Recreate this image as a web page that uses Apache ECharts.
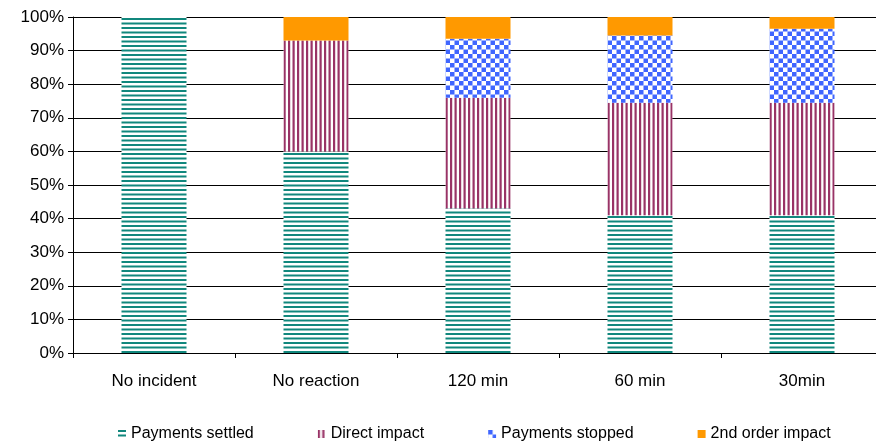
<!DOCTYPE html>
<html>
<head>
<meta charset="utf-8">
<script src="https://cdn.jsdelivr.net/npm/echarts@6/dist/echarts.min.js"></script>
<style>html,body{margin:0;padding:0;background:#fff;overflow:hidden;width:876px;height:442px}#c{width:890px;height:442px}</style>
</head>
<body>
<div id="c"></div>
<script>
const categories = ['No incident', 'No reaction', '120 min', '60 min', '30min'];
const seriesNames = ['Payments settled', 'Direct impact', 'Payments stopped', '2nd order impact'];
const settled = [100, 60, 43, 41, 41];
const direct = [0, 33, 33, 33.5, 33.5];
const stopped = [0, 0, 17.5, 20, 22];
const secondOrder = [0, 7, 6.5, 5.5, 3.5];
const yTicks = [0, 10, 20, 30, 40, 50, 60, 70, 80, 90, 100];

function makeCanvas(w, h, draw) {
  const c = document.createElement('canvas');
  c.width = w; c.height = h;
  const ctx = c.getContext('2d');
  ctx.fillStyle = '#ffffff';
  ctx.fillRect(0, 0, w, h);
  draw(ctx);
  return c;
}
const teal = '#11877d', maroon = '#993366', blue = '#3f66ff', orange = '#ff9900';
const hStripes = makeCanvas(9, 9, ctx => {
  ctx.fillStyle = teal;
  ctx.fillRect(0, 0, 9, 2);
  ctx.fillRect(0, 4.5, 9, 2);
});
const vStripes = makeCanvas(9, 9, ctx => {
  ctx.fillStyle = maroon;
  ctx.fillRect(0, 0, 2.2, 9);
  ctx.fillRect(4.5, 0, 2.2, 9);
});
const checker = makeCanvas(9, 9, ctx => {
  ctx.fillStyle = blue;
  ctx.fillRect(0, 0, 4.5, 4.5);
  ctx.fillRect(4.5, 4.5, 4.5, 4.5);
});
const fills = [
  { image: hStripes, repeat: 'repeat' },
  { image: vStripes, repeat: 'repeat' },
  { image: checker, repeat: 'repeat' },
  orange
];
const dataSets = [settled, direct, stopped, secondOrder];

const chart = echarts.init(document.getElementById('c'), null, { renderer: 'canvas' });
const font = 'Arial, "Liberation Sans", sans-serif';
chart.setOption({
  animation: false,
  backgroundColor: '#ffffff',
  grid: { left: 73, top: 17, width: 810, bottom: 89, containLabel: false },
  legend: {
    top: 421,
    left: 113,
    itemWidth: 8,
    itemHeight: 8,
    itemGap: 64,
    icon: 'rect',
    textStyle: { fontFamily: font, fontSize: 16, color: '#000' },
    data: seriesNames
  },
  xAxis: {
    type: 'category',
    data: categories,
    axisLine: { lineStyle: { color: '#000', width: 1 } },
    axisTick: { show: true, length: 5, lineStyle: { color: '#000' } },
    axisLabel: { color: '#000', fontFamily: font, fontSize: 17, margin: 20 }
  },
  yAxis: {
    type: 'value',
    min: 0, max: 100, interval: 10,
    axisLine: { show: true, lineStyle: { color: '#000', width: 1 } },
    axisTick: { show: true, length: 5, inside: false, lineStyle: { color: '#000' } },
    axisLabel: {
      color: '#000', fontFamily: font, fontSize: 17, margin: 9,
      formatter: v => yTicks.includes(v) ? v + '%' : ''
    },
    splitLine: { show: true, lineStyle: { color: '#000', width: 1 } }
  },
  series: seriesNames.map((name, i) => ({
    name,
    type: 'bar',
    stack: 'total',
    barWidth: 65,
    data: dataSets[i],
    itemStyle: { color: fills[i] }
  }))
});
</script>
</body>
</html>
